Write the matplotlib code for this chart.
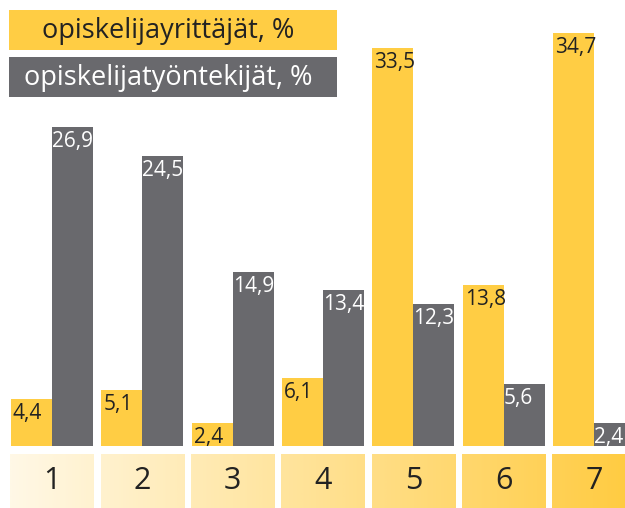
import numpy as np
import matplotlib
matplotlib.use('Agg')
import matplotlib.pyplot as plt
from matplotlib.patches import Rectangle
from matplotlib.colors import LinearSegmentedColormap

# data
groups = ['1', '2', '3', '4', '5', '6', '7']
yrittajat = [4.4, 5.1, 2.4, 6.1, 33.5, 13.8, 34.7]
tyontekijat = [26.9, 24.5, 14.9, 13.4, 12.3, 5.6, 2.4]
series_names = ['opiskelijayrittäjät, %', 'opiskelijatyöntekijät, %']

YELLOW = '#FFCD44'
GRAY = '#69696D'
DARK = '#222222'

plt.rcParams['font.family'] = ['Open Sans', 'DejaVu Sans']

W, H = 625, 508
fig = plt.figure(figsize=(W / 100, H / 100), dpi=100)

xlim = (-0.576, 6.343)

# bar area: bottom edge at 446 px from top, zero sits a little below it
ax = fig.add_axes([0, 62 / H, 1, 446 / H])
ax.set_axis_off()
x = np.arange(len(groups))
w = 0.455
ax.bar(x - w / 2, yrittajat, width=w, color=YELLOW, linewidth=0)
ax.bar(x + w / 2, tyontekijat, width=w, color=GRAY, linewidth=0)
ax.set_xlim(*xlim)
ax.set_ylim(0.497, 0.497 + 446 / 12.07)

# value labels inside the bar tops
for i in range(len(groups)):
    lab1 = f'{yrittajat[i]:.1f}'.replace('.', ',')
    lab2 = f'{tyontekijat[i]:.1f}'.replace('.', ',')
    ax.annotate(lab1, xy=(x[i] - w, yrittajat[i]), xytext=(2, -4),
                textcoords='offset pixels', ha='left', va='top',
                fontsize=15, color=DARK)
    ax.annotate(lab2, xy=(x[i], tyontekijat[i]), xytext=(0, -4),
                textcoords='offset pixels', ha='left', va='top',
                fontsize=15, color='white')

# legend boxes
leg = [(series_names[0], YELLOW, DARK, 10), (series_names[1], GRAY, 'white', 57)]
for name, fc, tc, top in leg:
    fig.patches.append(Rectangle((9 / W, 1 - (top + 40) / H), 328 / W, 40 / H,
                                 transform=fig.transFigure, facecolor=fc,
                                 linewidth=0, zorder=3))
    fig.text(168 / W, 1 - (top + 21) / H, name, ha='center', va='center',
             fontsize=19.5, color=tc, zorder=4)

# category boxes with gradient
bx = fig.add_axes([0, 0, 1, 54 / H])
bx.set_axis_off()
cmap = LinearSegmentedColormap.from_list('yl', ['#FFF8E6', '#FFCB40'])
bw = 0.92
gx0 = x[0] - bw / 2
gx1 = x[-1] + bw / 2
for i in range(len(groups)):
    l, r = x[i] - bw / 2, x[i] + bw / 2
    t = np.linspace((l - gx0) / (gx1 - gx0), (r - gx0) / (gx1 - gx0), 60)
    bx.imshow(t[np.newaxis, :], extent=[l, r, 0, 1], aspect='auto',
              cmap=cmap, vmin=0, vmax=1, zorder=0)
    bx.text(x[i], 0.5, groups[i], ha='center', va='center',
            fontsize=22, color=DARK)
bx.set_xlim(*xlim)
bx.set_ylim(0, 1)

fig.savefig('out.png', dpi=100)
